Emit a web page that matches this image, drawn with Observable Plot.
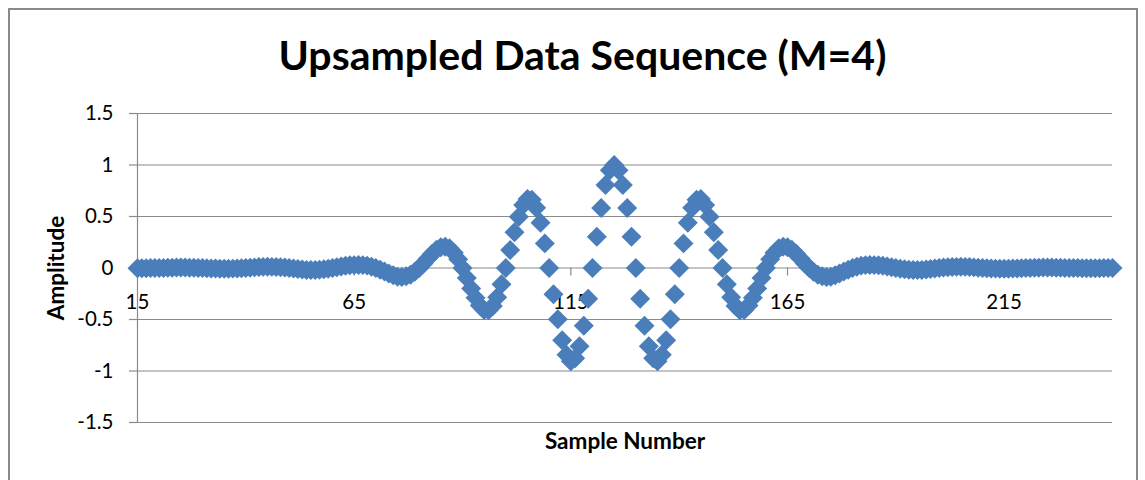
<!DOCTYPE html>
<html>
<head>
<meta charset="utf-8">
<script src="https://cdn.jsdelivr.net/npm/d3@7"></script>
<script src="https://cdn.jsdelivr.net/npm/@observablehq/plot@0.6"></script>
<style>
  body { margin: 0; background: #fff; }
  #wrap { position: relative; width: 1145px; height: 480px; overflow: hidden; font-family: Lato, "Open Sans", sans-serif; }
  #frame { position: absolute; left: 8px; top: 8px; width: 1130px; height: 540px; border: 2px solid #8a8a8a; box-sizing: border-box; pointer-events: none; }
  #title { position: relative; height: 95px; }
  #title span { position: absolute; left: 0; width: 1165px; text-align: center; top: 34px; font-size: 41px; line-height: 41px; font-weight: bold; color: #000; white-space: nowrap; }
  #chart { position: relative; }
</style>
</head>
<body>
<div id="wrap">
  <div id="frame"></div>
  <div id="title"><span>Upsampled Data Sequence (M=4)</span></div>
  <div id="chart"></div>
</div>
<script>
// Sample numbers start at 15 (one value per sample, through 240)
const sampleStart = 15;
// Amplitude, samples 15..240
const amplitude = [
  -0.002, -0.002, -0.002, -0.001, -0.001, 0, 0.001, 0.002, 0.003, 0.004,
  0.004, 0.004, 0.003, 0.003, 0.001, 0, -0.002, -0.004, -0.005, -0.007,
  -0.007, -0.007, -0.006, -0.005, -0.003, 0, 0.003, 0.006, 0.009, 0.011,
  0.012, 0.011, 0.010, 0.008, 0.004, 0, -0.005, -0.010, -0.015, -0.019,
  -0.020, -0.019, -0.016, -0.012, -0.007, 0, 0.007, 0.015, 0.021, 0.026,
  0.028, 0.029, 0.028, 0.023, 0.013, 0, -0.017, -0.035, -0.054, -0.070,
  -0.085, -0.087, -0.081, -0.065, -0.037, 0, 0.044, 0.092, 0.138, 0.177,
  0.202, 0.207, 0.191, 0.149, 0.085, 0, -0.097, -0.198, -0.290, -0.364,
  -0.407, -0.410, -0.370, -0.283, -0.157, 0, 0.174, 0.346, 0.498, 0.611,
  0.670, 0.663, 0.585, 0.440, 0.239, 0, -0.254, -0.497, -0.701, -0.843,
  -0.905, -0.877, -0.759, -0.560, -0.298, 0, 0.304, 0.583, 0.806, 0.950,
  1.000,
  0.950, 0.806, 0.583, 0.304, 0, -0.298, -0.560, -0.759, -0.877, -0.905,
  -0.843, -0.701, -0.497, -0.254, 0, 0.239, 0.440, 0.585, 0.663, 0.670,
  0.611, 0.498, 0.346, 0.174, 0, -0.157, -0.283, -0.370, -0.410, -0.407,
  -0.364, -0.290, -0.198, -0.097, 0, 0.085, 0.149, 0.191, 0.207, 0.202,
  0.177, 0.138, 0.092, 0.044, 0, -0.037, -0.065, -0.081, -0.087, -0.085,
  -0.070, -0.054, -0.035, -0.017, 0, 0.013, 0.023, 0.028, 0.029, 0.028,
  0.026, 0.021, 0.015, 0.007, 0, -0.007, -0.012, -0.016, -0.019, -0.020,
  -0.019, -0.015, -0.010, -0.005, 0, 0.004, 0.008, 0.010, 0.011, 0.012,
  0.011, 0.009, 0.006, 0.003, 0, -0.003, -0.005, -0.006, -0.007, -0.007,
  -0.007, -0.005, -0.004, -0.002, 0, 0.001, 0.003, 0.003, 0.004, 0.004,
  0.004, 0.003, 0.002, 0.001, 0, -0.001, -0.001, -0.002, -0.002, -0.002,
  -0.002, -0.002, -0.001, -0.001, 0
];
const xDomain = [15, 240];
const xTicks = [15, 65, 115, 165, 215];
const yTicks = [-1.5, -1, -0.5, 0, 0.5, 1, 1.5];

const data = amplitude.map((a, i) => ({ n: sampleStart + i, a }));
const gray = "#8a8a8a";

const chart = Plot.plot({
  width: 1145,
  height: 385,
  marginLeft: 137,
  marginRight: 33,
  marginTop: 18,
  marginBottom: 58,
  style: { fontFamily: "Lato, 'Open Sans', sans-serif", fontSize: "20.5px", color: "#000", background: "transparent" },
  x: { domain: xDomain, axis: null },
  y: { domain: [yTicks[0], yTicks[yTicks.length - 1]] },
  marks: [
    Plot.gridY(yTicks, { stroke: gray, strokeOpacity: 1, strokeWidth: 1.2 }),
    Plot.ruleX([xDomain[0]], { stroke: gray, strokeWidth: 1.2 }),
    Plot.axisY(yTicks, { tickSize: 8, tickPadding: 16, stroke: gray, strokeOpacity: 1, strokeWidth: 1.2, fill: "#000", label: null, tickFormat: d => String(d) }),
    Plot.ruleX(xTicks, { x: d => d, y1: 0, y2: 0, insetBottom: -8, stroke: gray, strokeWidth: 1.2 }),
    Plot.text(xTicks, { x: d => d, y: 0, dy: 34, text: d => String(d), fontSize: 20.5, fill: "#000" }),
    Plot.dot(data, { x: "n", y: "a", symbol: "diamond2", r: 9, fill: "#4a7ebb", stroke: "none" }),
    Plot.text(["Sample Number"], { text: d => d, frameAnchor: "bottom", lineAnchor: "middle", textAnchor: "middle", dy: 19, fontWeight: "bold", fontSize: 22.5, fill: "#000" }),
    Plot.text(["Amplitude"], { text: d => d, frameAnchor: "left", lineAnchor: "middle", textAnchor: "middle", dx: -81, rotate: -90, fontWeight: "bold", fontSize: 22.5, fill: "#000" })
  ]
});
document.getElementById("chart").appendChild(chart);
</script>
</body>
</html>
